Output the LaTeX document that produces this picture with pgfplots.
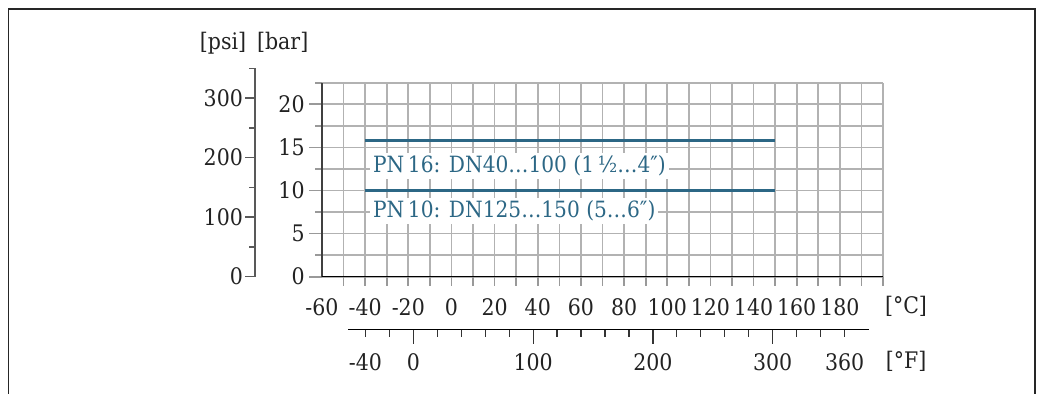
\documentclass[border=0pt]{standalone}
\usepackage{fontspec}
\setmainfont{DejaVu Serif}[FakeStretch=0.9]
\usepackage{pgfplots}
\pgfplotsset{compat=1.18}
\definecolor{ehblue}{RGB}{44,103,133}
\definecolor{txt}{RGB}{34,34,34}
\newcommand\af{\fontsize{11.4}{13}\selectfont}
\newcommand\lf{\fontsize{11.2}{13}\selectfont}
\begin{document}
\begin{tikzpicture}
\useasboundingbox (0,0) rectangle (521pt,197pt);
\draw[line width=0.8pt, black!85] (4.15pt,-3pt) -- (4.15pt,192.35pt) -- (517.5pt,192.35pt) -- (517.5pt,-3pt);
% main grid + bar axis
\begin{axis}[
  at={(161pt,58.65pt)}, anchor=south west,
  scale only axis, width=280.5pt, height=97pt,
  xmin=-60, xmax=200, ymin=0, ymax=22.5,
  axis x line*=bottom, axis y line*=left,
  xtick={-60,-50,...,200}, xticklabels={},
  xtick style={draw=none},
  ytick={0,5,...,20}, yticklabels={0,5,10,15,20},
  minor ytick={2.5,7.5,...,22.5},
  grid=both,
  major grid style={black!30, line width=0.85pt},
  minor grid style={black!30, line width=0.85pt},
  tick align=outside, major tick length=6.5pt, minor tick length=3.5pt,
  ytick style={black!40, line width=0.85pt},
  y axis line style={black!75, line width=0.9pt},
  x axis line style={black, line width=0.7pt},
  yticklabel style={font=\af, text=txt, inner sep=0pt, xshift=-2pt},
  clip=false,
]
\addplot[ehblue, line width=1.1pt] coordinates {(-40,15.8) (150,15.8)};
\addplot[ehblue, line width=1.1pt] coordinates {(-40,10) (150,10)};
\node[anchor=base west, fill=white, inner sep=1.5pt, text=ehblue, font=\lf] at (axis cs:-40,12.06) [xshift=2.25pt] {PN\,16: DN40…100 (1\,½…4″)};
\node[anchor=base west, fill=white, inner sep=1.5pt, text=ehblue, font=\lf] at (axis cs:-40,6.85) [xshift=2.25pt] {PN\,10: DN125…150 (5…6″)};
\end{axis}
% celsius ticks and labels
\begin{axis}[
  at={(161pt,58.65pt)}, anchor=south west,
  scale only axis, width=280.5pt, height=97pt,
  xmin=-60, xmax=200, ymin=0, ymax=22.5,
  axis x line*=bottom, hide y axis,
  xtick={-60,-40,...,180},
  xticklabels={-60,-40,-20,0,20,40,60,80,100,120,140,160,180},
  minor xtick={-50,-40,...,200},
  tick align=outside, major tick length=0pt, minor tick length=4.5pt,
  tick style={black!40, line width=0.85pt},
  x axis line style={black, line width=0.7pt},
  xticklabel style={font=\af, text=txt, inner sep=0pt, anchor=north, yshift=-10.85pt},
]
\addplot[draw=none] coordinates {(0,0)};
\end{axis}
% psi axis
\begin{axis}[
  at={(127.5pt,58.65pt)}, anchor=south west,
  scale only axis, width=10pt, height=104.2pt,
  xmin=0, xmax=1, ymin=0, ymax=350,
  axis y line*=left, hide x axis,
  ytick={0,100,200,300}, yticklabels={0,100,200,300},
  minor ytick={50,150,250,350},
  tick align=outside, major tick length=5pt, minor tick length=3pt,
  tick style={black!65, line width=0.7pt},
  y axis line style={black!65, line width=0.8pt},
  yticklabel style={font=\af, text=txt, inner sep=0pt, xshift=-0.85pt},
]
\addplot[draw=none] coordinates {(0,0)};
\end{axis}
% fahrenheit axis: short ticks and labels
\begin{axis}[
  at={(174.15pt,32.35pt)}, anchor=south west,
  scale only axis, width=260.35pt, height=20pt,
  xmin=-54.3, xmax=380.4, ymin=0, ymax=1,
  axis x line*=bottom, hide y axis,
  xtick={-40,0,100,200,300,360},
  xticklabels={-40,0,100,200,300,360},
  minor xtick={-40,-20,...,360},
  tick align=outside, major tick length=0pt, minor tick length=3.65pt,
  tick style={black!80, line width=0.6pt},
  x axis line style={black, line width=0.6pt},
  xticklabel style={font=\af, text=txt, inner sep=0pt, anchor=north, yshift=-11.7pt},
]
\addplot[draw=none] coordinates {(0,0)};
\end{axis}
% fahrenheit axis: long ticks
\begin{axis}[
  at={(174.15pt,32.35pt)}, anchor=south west,
  scale only axis, width=260.35pt, height=20pt,
  xmin=-54.3, xmax=380.4, ymin=0, ymax=1,
  axis x line*=bottom, hide y axis,
  xtick={0,100,200,300}, xticklabels={},
  tick align=outside, major tick length=7.35pt,
  tick style={black!80, line width=0.6pt},
  x axis line style={black, line width=0.6pt},
]
\addplot[draw=none] coordinates {(0,0)};
\end{axis}
\node[anchor=base, font=\af, text=txt] at (111.5pt,172pt) {[psi]};
\node[anchor=base, font=\af, text=txt] at (141.35pt,172pt) {[bar]};
\node[anchor=base, font=\af, text=txt] at (453pt,40pt) {[°C]};
\node[anchor=base, font=\af, text=txt] at (453pt,12.5pt) {[°F]};
\end{tikzpicture}
\end{document}
